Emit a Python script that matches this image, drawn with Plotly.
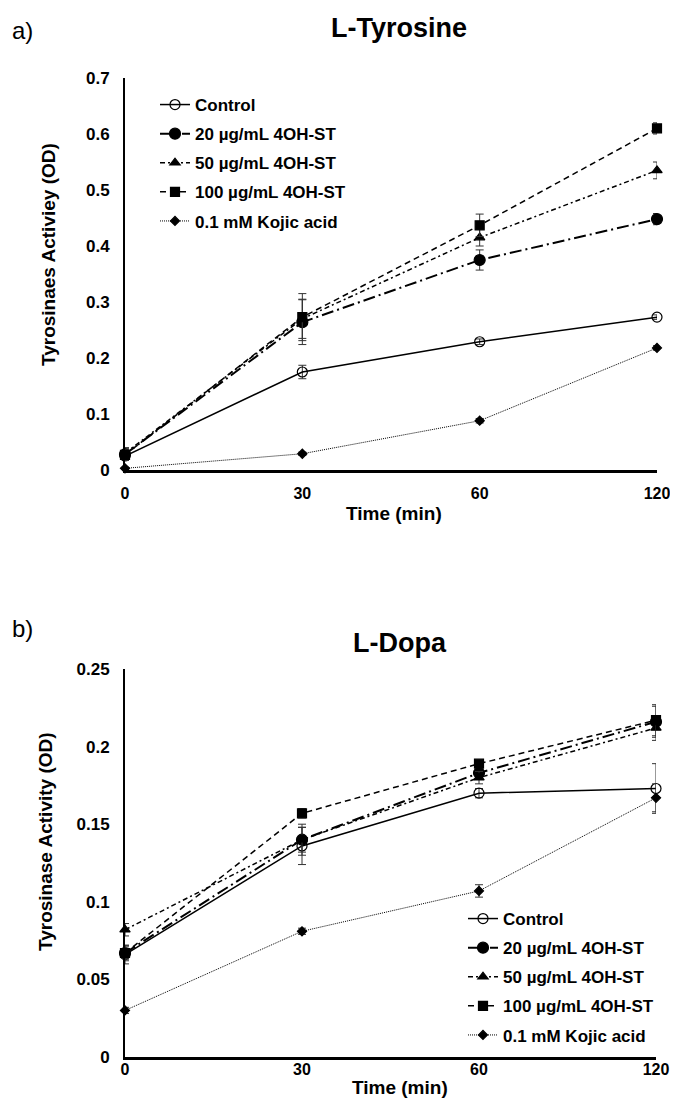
import plotly.graph_objects as go

times = ["0", "30", "60", "120"]
series_names = ["Control", "20 µg/mL 4OH-ST", "50 µg/mL 4OH-ST", "100 µg/mL 4OH-ST", "0.1 mM Kojic acid"]

# Panel a: L-Tyrosine
tyr_control = [0.025, 0.175, 0.229, 0.273]
tyr_20 = [0.028, 0.264, 0.375, 0.448]
tyr_50 = [0.030, 0.270, 0.415, 0.535]
tyr_100 = [0.027, 0.273, 0.437, 0.610]
tyr_kojic = [0.003, 0.029, 0.088, 0.218]
tyr_control_err = [0.005, 0.012, 0.005, 0.004]
tyr_20_err = [0.010, 0.040, 0.018, 0.010]
tyr_50_err = [0.010, 0.035, 0.015, 0.015]
tyr_100_err = [0.010, 0.042, 0.020, 0.010]
tyr_kojic_err = [0.002, 0.003, 0.004, 0.004]

# Panel b: L-Dopa
dopa_control = [0.066, 0.136, 0.170, 0.173]
dopa_20 = [0.067, 0.140, 0.183, 0.216]
dopa_50 = [0.082, 0.140, 0.180, 0.212]
dopa_100 = [0.067, 0.157, 0.189, 0.217]
dopa_kojic = [0.030, 0.081, 0.107, 0.167]
dopa_control_err = [0.006, 0.012, 0.003, 0.016]
dopa_20_err = [0.005, 0.010, 0.004, 0.010]
dopa_50_err = [0.004, 0.008, 0.004, 0.008]
dopa_100_err = [0.004, 0.003, 0.002, 0.010]
dopa_kojic_err = [0.002, 0.002, 0.004, 0.009]

styles = [
    dict(dash="solid", width=1.5, symbol="circle-open", size=10),
    dict(dash="12px,4px,2px,4px", width=2, symbol="circle", size=11),
    dict(dash="5px,3px,2px,3px", width=1.5, symbol="triangle-up", size=9),
    dict(dash="6px,4px", width=1.5, symbol="square", size=9),
    dict(dash="1px,1px", width=1, symbol="diamond", size=7),
]

FONT = "Liberation Sans, Arial, sans-serif"
W, H = 662, 1090   # page has an 8px body margin; keep the figure inside the window


def px(x):
    return (x - 8) / W


def py(y):
    return 1 - (y - 8) / H


fig = go.Figure()

panel_a = [(tyr_control, tyr_control_err), (tyr_20, tyr_20_err), (tyr_50, tyr_50_err),
           (tyr_100, tyr_100_err), (tyr_kojic, tyr_kojic_err)]
panel_b = [(dopa_control, dopa_control_err), (dopa_20, dopa_20_err), (dopa_50, dopa_50_err),
           (dopa_100, dopa_100_err), (dopa_kojic, dopa_kojic_err)]

for panel, (data, xa, ya, leg) in enumerate([(panel_a, "x", "y", "legend"), (panel_b, "x2", "y2", "legend2")]):
    for i, ((vals, errs), name, st) in enumerate(zip(data, series_names, styles)):
        fig.add_trace(go.Scatter(
            x=times, y=vals, name=name, mode="lines+markers",
            xaxis=xa, yaxis=ya, legend=leg, legendgroup=f"{panel}-{i}",
            line=dict(color="black", width=st["width"], dash=st["dash"]),
            marker=dict(symbol=st["symbol"], size=st["size"], color="black",
                        line=dict(color="black", width=1.2)),
            error_y=dict(type="data", array=errs, visible=True, color="#333333",
                         thickness=1, width=4),
            cliponaxis=False,
        ))

ytickfont = dict(family=FONT, size=17, color="black", weight="bold")
xtickfont = dict(family=FONT, size=16, color="black", weight="bold")
legfont = dict(family=FONT, size=17, color="black", weight="bold")

xcommon = dict(type="category", range=[0, 3], showgrid=False, zeroline=False,
               showline=True, linecolor="black", linewidth=3, ticks="",
               tickfont=xtickfont, automargin=False)
ycommon = dict(showgrid=False, zeroline=False, showline=True, linecolor="black",
               linewidth=2, ticks="", tickfont=ytickfont, ticklabelstandoff=10,
               automargin=False)

fig.update_layout(
    width=W, height=H,
    margin=dict(l=0, r=0, t=0, b=0),
    paper_bgcolor="white", plot_bgcolor="white",
    font=dict(family=FONT, color="black"),
    xaxis=dict(domain=[px(125), px(657)], anchor="y", ticklabelstandoff=7, **xcommon),
    yaxis=dict(domain=[py(470), py(78)], anchor="x", range=[0, 0.7], dtick=0.1, **ycommon),
    xaxis2=dict(domain=[px(125), px(656)], anchor="y2", ticklabelstandoff=-4, **xcommon),
    yaxis2=dict(domain=[py(1057), py(669)], anchor="x2", range=[0, 0.25], dtick=0.05, **ycommon),
    legend=dict(x=px(155), y=py(87), xanchor="left", yanchor="top",
                bgcolor="rgba(0,0,0,0)", tracegroupgap=4, font=legfont),
    legend2=dict(x=px(463), y=py(901), xanchor="left", yanchor="top",
                 bgcolor="rgba(0,0,0,0)", tracegroupgap=4, font=legfont),
    showlegend=True,
)

ann = [
    dict(text="a)", x=10, y=30, size=24, center=False),
    dict(text="<b>L-Tyrosine</b>", x=399, y=28, size=27, center=True),
    dict(text="b)", x=10, y=628, size=24, center=False),
    dict(text="<b>L-Dopa</b>", x=400, y=643, size=27, center=True),
    dict(text="<b>Time (min)</b>", x=394, y=513, size=19, center=True),
    dict(text="<b>Time (min)</b>", x=400, y=1087, size=19, center=True),
]
for a in ann:
    fig.add_annotation(
        text=a["text"], xref="paper", yref="paper",
        x=px(a["x"]), y=py(a["y"]),
        xanchor="center" if a["center"] else "left", yanchor="middle",
        showarrow=False, font=dict(family=FONT, size=a["size"], color="black"),
    )

for text, xc, yc in [("<b>Tyrosinaes Activiey (OD)</b>", 48, 255),
                     ("<b>Tyrosinase Activity (OD)</b>", 45, 842)]:
    fig.add_annotation(text=text, xref="paper", yref="paper", x=px(xc), y=py(yc),
                       xanchor="center", yanchor="middle", textangle=-90, showarrow=False,
                       font=dict(family=FONT, size=19, color="black"))

fig.write_html("out.html")
